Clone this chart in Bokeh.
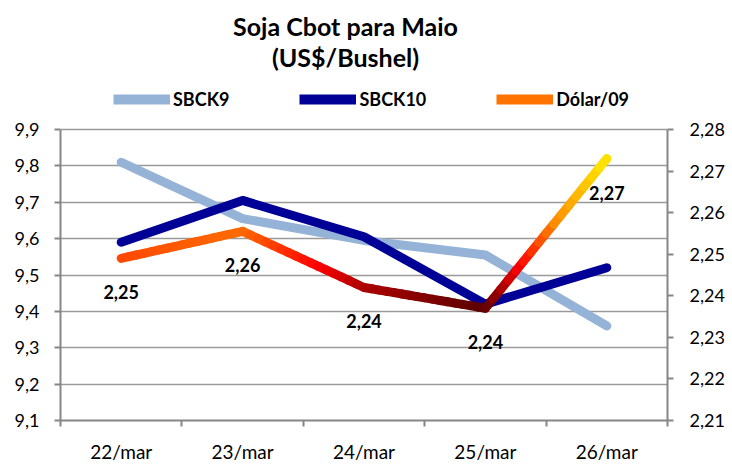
import numpy as np
from bokeh.plotting import figure
from bokeh.models import (Range1d, LinearAxis, FixedTicker, CustomJSTickFormatter,
                          Legend, LegendItem, Label, ColumnDataSource)
from bokeh.embed import file_html
from bokeh.resources import INLINE
from bokeh.core.properties import value

# ---- data ----
dates = ["22/mar", "23/mar", "24/mar", "25/mar", "26/mar"]
sbck9 = [9.81, 9.655, 9.595, 9.555, 9.36]
sbck10 = [9.59, 9.705, 9.605, 9.42, 9.52]
dolar = [2.249, 2.2555, 2.242, 2.237, 2.273]
left_ticks = [9.1, 9.2, 9.3, 9.4, 9.5, 9.6, 9.7, 9.8, 9.9]
right_ticks = [2.21, 2.22, 2.23, 2.24, 2.25, 2.26, 2.27, 2.28]
series_names = ["SBCK9", "SBCK10", "Dólar/09"]
title_1 = "Soja Cbot para Maio"
title_2 = "(US$/Bushel)"

FONT = "Lato"
AXIS_COLOR = "#868686"
GRID_COLOR = "#9a9a9a"
C9 = "#95B3D7"
C10 = "#000096"

# layout: the frame spans the whole height above the x axis; the value axes
# occupy only its lower AXIS_H pixels, the rest holds title and legend.
FRAME_W, FRAME_H, AXIS_H = 607, 420, 291

def extend(lo, hi):
    return lo + (hi - lo) * FRAME_H / AXIS_H

xs = [i + 0.5 for i in range(len(dates))]

p = figure(frame_width=FRAME_W, frame_height=FRAME_H,
           x_range=Range1d(0, len(dates)),
           y_range=Range1d(left_ticks[0], extend(left_ticks[0], left_ticks[-1])),
           output_backend="svg", toolbar_location=None, title_location=None,
           min_border_left=60, min_border_right=65, min_border_bottom=45, min_border_top=0,
           outline_line_color=None, background_fill_color="white")
p.extra_y_ranges = {"usd": Range1d(right_ticks[0], extend(right_ticks[0], right_ticks[-1]))}

# x axis with ticks at category boundaries
xa = p.xaxis[0]
xa.ticker = FixedTicker(ticks=xs, minor_ticks=list(range(len(dates) + 1)))
xa.major_label_overrides = {x: d for x, d in zip(xs, dates)}
xa.major_tick_out = 0
xa.major_tick_in = 0
xa.minor_tick_out = 6
xa.minor_tick_in = 0
xa.minor_tick_line_color = AXIS_COLOR
xa.minor_tick_line_width = 2
xa.axis_line_color = AXIS_COLOR
xa.axis_line_width = 2
xa.major_label_standoff = 13
xa.major_label_text_font = FONT
xa.major_label_text_font_size = "19px"
xa.major_label_text_color = "black"

ya = p.yaxis[0]
ya.ticker = FixedTicker(ticks=left_ticks)
ya.bounds = (left_ticks[0], left_ticks[-1])
ya.formatter = CustomJSTickFormatter(code="return tick.toFixed(1).replace('.', ',')")

ra = LinearAxis(y_range_name="usd", ticker=FixedTicker(ticks=right_ticks),
                bounds=(right_ticks[0], right_ticks[-1]),
                formatter=CustomJSTickFormatter(code="return tick.toFixed(2).replace('.', ',')"))
p.add_layout(ra, "right")

for ax in (ya, ra):
    ax.major_tick_out = 6
    ax.major_tick_in = 0
    ax.minor_tick_out = 0
    ax.minor_tick_in = 0
    ax.major_tick_line_color = AXIS_COLOR
    ax.major_tick_line_width = 2
    ax.axis_line_color = AXIS_COLOR
    ax.axis_line_width = 2
    ax.major_label_text_font = FONT
    ax.major_label_text_font_size = "18px"
    ax.major_label_text_color = "black"
ya.major_label_standoff = 15
ra.major_label_standoff = 16

p.xgrid.visible = False
p.ygrid.ticker = FixedTicker(ticks=left_ticks)
p.ygrid.grid_line_color = GRID_COLOR
p.ygrid.grid_line_width = 1.5

# ---- lines ----
r9 = p.line(xs, sbck9, line_color=C9, line_width=9, line_cap="round", line_join="round")
r10 = p.line(xs, sbck10, line_color=C10, line_width=9, line_cap="round", line_join="round")

# gradient for the Dólar line (colour stops along x)
stops_x = [0.5, 1.5, 2.15, 2.5, 3.5, 3.8, 4.1, 4.5]
stops_c = [(255, 72, 0), (255, 108, 0), (255, 0, 0), (176, 0, 0), (90, 0, 0),
           (255, 0, 0), (255, 145, 0), (255, 232, 0)]
def col_at(x):
    r = np.interp(x, stops_x, [c[0] for c in stops_c])
    g = np.interp(x, stops_x, [c[1] for c in stops_c])
    b = np.interp(x, stops_x, [c[2] for c in stops_c])
    return "#%02x%02x%02x" % (int(r), int(g), int(b))

x0s, y0s, x1s, y1s, cols = [], [], [], [], []
n = 16
for i in range(len(xs) - 1):
    t = np.linspace(0, 1, n + 1)
    sx = xs[i] + t * (xs[i + 1] - xs[i])
    sy = dolar[i] + t * (dolar[i + 1] - dolar[i])
    for k in range(n):
        x0s.append(float(sx[k])); y0s.append(float(sy[k]))
        x1s.append(float(sx[k + 1])); y1s.append(float(sy[k + 1]))
        cols.append(col_at(0.5 * (sx[k] + sx[k + 1])))
seg_src = ColumnDataSource(dict(x0=x0s, y0=y0s, x1=x1s, y1=y1s, c=cols))
p.segment("x0", "y0", "x1", "y1", source=seg_src, line_color="c", line_width=9,
          line_cap="round", y_range_name="usd")

labels = [("%.2f" % v).replace(".", ",") for v in dolar]
p.text(xs, dolar, text=labels, y_range_name="usd", text_align="center",
       text_baseline="middle", y_offset=34, text_font=value(FONT),
       text_font_style="bold", text_font_size="18px", text_color="black")

# legend samples (single point each, draw nothing in the plot)
rl9 = p.line(x=[xs[0]], y=[sbck9[0]], line_color=C9, line_width=10)
rl10 = p.line(x=[xs[0]], y=[sbck10[0]], line_color=C10, line_width=10)
rdol = p.line(x=[xs[0]], y=[dolar[0]], y_range_name="usd", line_color="#ff7400",
              line_width=10)

legend = Legend(items=[LegendItem(label=series_names[0], renderers=[rl9]),
                       LegendItem(label=series_names[1], renderers=[rl10]),
                       LegendItem(label=series_names[2], renderers=[rdol])],
                orientation="horizontal", spacing=70, location=(53, 310),
                glyph_width=57, glyph_height=20, label_standoff=3,
                label_text_font=FONT, label_text_font_style="bold",
                label_text_font_size="18px", label_text_color="black",
                border_line_color=None, background_fill_alpha=0, padding=0, margin=0)
p.add_layout(legend, "center")

for txt, yy in ((title_1, 395), (title_2, 364)):
    p.add_layout(Label(x=285, y=yy, x_units="screen", y_units="screen", text=txt,
                       text_align="center", text_baseline="alphabetic",
                       text_font=FONT, text_font_size="25px", text_font_style="bold",
                       text_color="black"))

open("out.html", "w").write(file_html(p, INLINE))
